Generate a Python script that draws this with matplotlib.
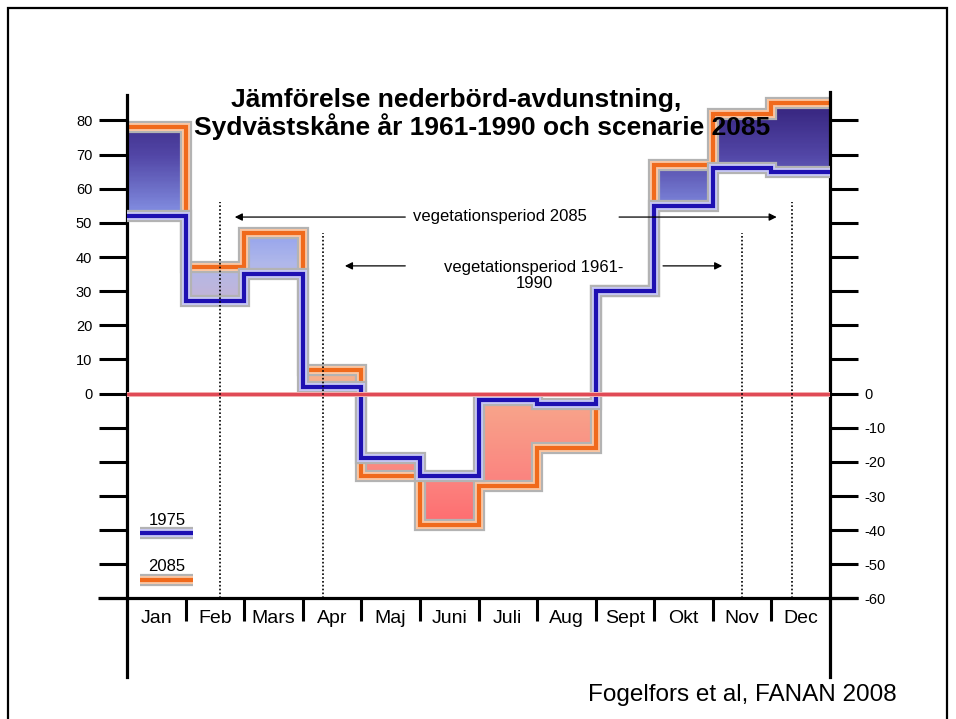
import numpy as np
import matplotlib
matplotlib.use('Agg')
import matplotlib.pyplot as plt
from matplotlib.colors import LinearSegmentedColormap
from matplotlib.path import Path
from matplotlib.patches import PathPatch, Rectangle
from matplotlib.ticker import FuncFormatter

plt.rcParams['font.family'] = ['Liberation Sans', 'DejaVu Sans']

# data (mm per month, nederbord - avdunstning)
months = ['Jan', 'Feb', 'Mars', 'Apr', 'Maj', 'Juni', 'Juli', 'Aug', 'Sept', 'Okt', 'Nov', 'Dec']
blue_1975 = [52, 27, 35, 2, -19, -24, -2, -3, 30, 55, 66, 65]
orange_2085 = [78, 37, 47, 7, -24, -38.5, -27, -16, 30, 67, 82, 85]
y_ticks = list(range(-60, 90, 10))

# vegetation periods: dotted bounds (month units), top of dotted line, arrow row
veg_2085_bounds = [1.59, 11.35]
veg_2085_top = 56
veg_2085_arrows = [(1.84, 4.75), (11.09, 8.40)]   # (tip, tail)
veg_2085_y = 51.7
veg_1961_bounds = [3.34, 10.49]
veg_1961_top = 47
veg_1961_arrows = [(3.72, 4.75), (10.16, 9.15)]
veg_1961_y = 37.4

BLUE = '#1e10b2'
ORANGE = '#f06a1c'


def halo_line(ax, x, y, color, light, z, **kw):
    ax.plot(x, y, color='#b3b3b3', lw=8.8, zorder=z, solid_joinstyle='miter',
            solid_capstyle='butt', **kw)
    ax.plot(x, y, color=light, lw=5.8, zorder=z + 0.1, solid_joinstyle='miter',
            solid_capstyle='butt', **kw)
    ax.plot(x, y, color=color, lw=3.0, zorder=z + 0.2, solid_joinstyle='miter',
            solid_capstyle='butt', **kw)


fig = plt.figure(figsize=(9.56, 7.19), dpi=100)
ax = fig.add_axes([127 / 956, 0.05369, 703 / 956, 0.82156])
ax.set_xlim(0, 12)
ax.set_ylim(-84, 89)

# gradient fill between the two curves
cmap = LinearSegmentedColormap.from_list('pe', [
    (0.0, '#ff6a6e'), (0.12, '#fb8580'), (0.28, '#f8a28a'), (0.384, '#f4b58e'),
    (0.52, '#c8b4d2'), (0.624, '#b0b8ea'), (0.72, '#8c9cee'), (0.8, '#6e70c8'),
    (0.88, '#5246a6'), (1.0, '#36247e')])
grad = np.linspace(-60, 90, 400)[:, None]
im = ax.imshow(grad, extent=[0, 12, -60, 90], origin='lower', cmap=cmap,
               vmin=-40, vmax=85, aspect='auto', zorder=1, interpolation='bilinear')
verts, codes = [], []
for i in range(12):
    lo, hi = sorted((blue_1975[i], orange_2085[i]))
    verts += [(i, lo), (i + 1, lo), (i + 1, hi), (i, hi), (i, lo)]
    codes += [Path.MOVETO, Path.LINETO, Path.LINETO, Path.LINETO, Path.CLOSEPOLY]
clip = PathPatch(Path(verts, codes), transform=ax.transData, fc='none', ec='none')
ax.add_patch(clip)
im.set_clip_path(clip)

# step lines
xs = np.arange(13)
halo_line(ax, xs, orange_2085 + [orange_2085[-1]], ORANGE, '#f8c6a4', 2, drawstyle='steps-post')
halo_line(ax, xs, blue_1975 + [blue_1975[-1]], BLUE, '#c6c6f2', 3, drawstyle='steps-post')

# zero line
ax.axhline(0, color='#f4b0b0', lw=3.6, zorder=4)
ax.axhline(0, color='#e04a56', lw=2.2, zorder=4.1)

# dotted vegetation bounds
for bx in veg_2085_bounds:
    ax.plot([bx, bx], [-60, veg_2085_top], color='k', lw=1.2, ls=(0, (1, 1.3)), zorder=5)
for bx in veg_1961_bounds:
    ax.plot([bx, bx], [-60, veg_1961_top], color='k', lw=1.2, ls=(0, (1, 1.3)), zorder=5)

for tip, tail in veg_2085_arrows:
    ax.annotate('', xy=(tip, veg_2085_y), xytext=(tail, veg_2085_y),
                arrowprops=dict(arrowstyle='-|>', color='k', lw=0.9, mutation_scale=11,
                                shrinkA=0, shrinkB=0), zorder=5)
for tip, tail in veg_1961_arrows:
    ax.annotate('', xy=(tip, veg_1961_y), xytext=(tail, veg_1961_y),
                arrowprops=dict(arrowstyle='-|>', color='k', lw=0.9, mutation_scale=11,
                                shrinkA=0, shrinkB=0), zorder=5)
ax.text(6.37, veg_2085_y + 0.3, 'vegetationsperiod 2085', ha='center', va='center', fontsize=12)
ax.text(6.95, veg_1961_y - 2.8, 'vegetationsperiod 1961-\n1990', ha='center', va='center',
        multialignment='center', fontsize=12, linespacing=1.05)

# legend (drawn like the chart lines)
ax.text(0.68, -37.3, '1975', ha='center', va='center', fontsize=12)
halo_line(ax, [0.22, 1.13], [-40.8, -40.8], BLUE, '#c6c6f2', 3)
ax.text(0.68, -50.5, '2085', ha='center', va='center', fontsize=12)
halo_line(ax, [0.22, 1.13], [-54.6, -54.6], ORANGE, '#f8c6a4', 2)

# axes
for s in ['top', 'bottom']:
    ax.spines[s].set_visible(False)
ax.spines['left'].set_linewidth(2.3)
ax.spines['right'].set_linewidth(2.3)
ax.spines['left'].set_bounds(-83, 87.3)
ax.spines['right'].set_bounds(-83, 88.2)
ax.plot([-0.5, 12.48], [-60, -60], color='k', lw=2.3, clip_on=False,
        solid_capstyle='butt', zorder=6)

ax.set_yticks(y_ticks)
ax.yaxis.set_major_formatter(FuncFormatter(lambda v, p: '%d' % v if v >= 0 else ''))
ax.tick_params(axis='y', left=True, right=False, length=20, width=2.2, pad=5, labelsize=10.5)

ax2 = ax.twinx()
ax2.set_ylim(ax.get_ylim())
for s in ax2.spines.values():
    s.set_visible(False)
ax2.set_yticks(y_ticks)
ax2.yaxis.set_major_formatter(FuncFormatter(lambda v, p: '%d' % v if v <= 0 else ''))
ax2.tick_params(axis='y', length=20, width=2.2, pad=5, labelsize=10.5)

# month separators and labels hang below the -60 line
ax.set_xticks([])
ax.tick_params(axis='x', which='both', bottom=False, top=False, labelbottom=False)
for i in range(1, 12):
    ax.plot([i, i], [-60, -66.5], color='k', lw=2.2, solid_capstyle='butt', zorder=6)
for i, m in enumerate(months):
    ax.text(i + 0.5, -66.0, m, ha='center', va='center', fontsize=14)

# titles and source
fig.text(456 / 956, 1 - 100 / 719, 'Jämförelse nederbörd-avdunstning,', ha='center',
         va='center', fontsize=19, fontweight='bold')
fig.text(482 / 956, 1 - 127 / 719, 'Sydvästskåne år 1961-1990 och scenarie 2085', ha='center',
         va='center', fontsize=19, fontweight='bold')
fig.text(588 / 956, 1 - 695 / 719, 'Fogelfors et al, FANAN 2008', ha='left', va='center',
         fontsize=17.5)

# outer frame of the slide
fig.add_artist(Rectangle((8 / 956, -0.02), 939 / 956, 1.02 - 8 / 719, transform=fig.transFigure,
                         fill=False, ec='k', lw=1.6))

fig.savefig('out.png', dpi=100)
